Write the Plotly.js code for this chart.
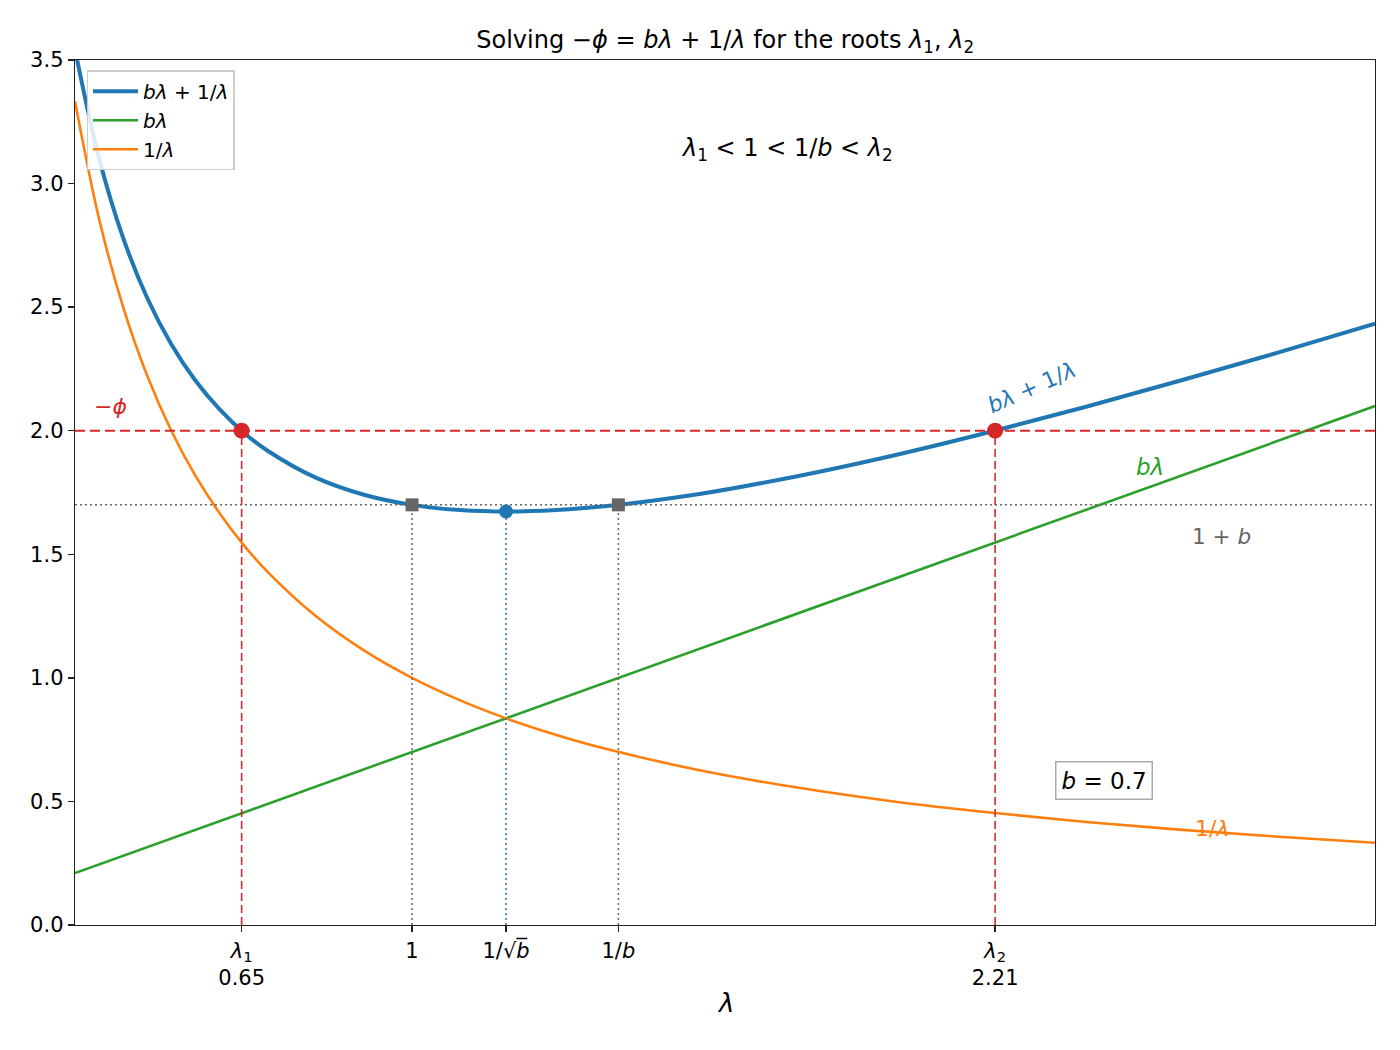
<!DOCTYPE html>
<html>
<head>
<meta charset="utf-8">
<script src="https://cdn.plot.ly/plotly-3.0.1.min.js"></script>
<style>html,body{margin:0;padding:0;background:#fff;}#chart{width:1400px;height:1050px;}</style>
</head>
<body>
<div id="chart"></div>
<script>
// ---- data ----
const lam = [0.30,0.35,0.40,0.45,0.50,0.55,0.60,0.65,0.70,0.80,0.90,1.00,1.10,1.20,1.30,1.40,1.60,1.80,2.00,2.20,2.40,2.60,2.80,3.00];
const sumCurve = [3.543,3.102,2.780,2.537,2.350,2.203,2.087,1.993,1.919,1.810,1.741,1.700,1.679,1.673,1.679,1.694,1.745,1.816,1.900,1.995,2.097,2.205,2.317,2.433];
const linCurve = [0.210,0.245,0.280,0.315,0.350,0.385,0.420,0.455,0.490,0.560,0.630,0.700,0.770,0.840,0.910,0.980,1.120,1.260,1.400,1.540,1.680,1.820,1.960,2.100];
const invCurve = [3.333,2.857,2.500,2.222,2.000,1.818,1.667,1.538,1.429,1.250,1.111,1.000,0.909,0.833,0.769,0.714,0.625,0.556,0.500,0.455,0.417,0.385,0.357,0.333];

const negPhi = 2.0;
const onePlusB = 1.7;
const rootsX = [0.6461, 2.2110];
const squareX = [1.0, 1.4286];
const minX = [1.1952];
const minY = [1.6733];
const tickVals = [0.6461, 1.0, 1.1952, 1.4286, 2.2110];
const tickText = ['<i>λ</i><sub>1</sub><br>0.65', '1', '1/√<i>b\u0305</i>', '1/<i>b</i>', '<i>λ</i><sub>2</sub><br>2.21'];
const yTickVals = [0, 0.5, 1, 1.5, 2, 2.5, 3, 3.5];
const yTickText = ['0.0','0.5','1.0','1.5','2.0','2.5','3.0','3.5'];
const xRange = [0.3, 3.0];
const yRange = [0, 3.5];

const C_BLUE = '#1f77b4', C_GREEN = '#2ca02c', C_ORANGE = '#ff7f0e', C_RED = '#d62728', C_GRAY = '#666666';
const FONT = 'DejaVu Sans, sans-serif';

const traces = [];
traces.push({x: lam, y: sumCurve, mode: 'lines', line: {color: C_BLUE, width: 4, shape: 'spline', smoothing: 1}, name: '<i>bλ</i> + 1/<i>λ</i>'});
traces.push({x: lam, y: linCurve, mode: 'lines', line: {color: C_GREEN, width: 2.6}, name: '<i>bλ</i>'});
traces.push({x: lam, y: invCurve, mode: 'lines', line: {color: C_ORANGE, width: 2.6, shape: 'spline', smoothing: 1}, name: '1/<i>λ</i>'});

traces.push({x: xRange, y: [negPhi, negPhi], mode: 'lines', line: {color: C_RED, width: 2, dash: '10px,5px'}, showlegend: false, hoverinfo: 'skip'});
traces.push({x: xRange, y: [onePlusB, onePlusB], mode: 'lines', line: {color: C_GRAY, width: 1.5, dash: '2px,3px'}, showlegend: false, hoverinfo: 'skip'});
rootsX.forEach(function (rx) {
  traces.push({x: [rx, rx], y: [0, negPhi], mode: 'lines', line: {color: C_RED, width: 1.6, dash: '8px,4px'}, showlegend: false, hoverinfo: 'skip'});
});
squareX.forEach(function (sx) {
  traces.push({x: [sx, sx], y: [0, onePlusB], mode: 'lines', line: {color: C_GRAY, width: 1.5, dash: '2px,3px'}, showlegend: false, hoverinfo: 'skip'});
});
traces.push({x: [minX[0], minX[0]], y: [0, minY[0]], mode: 'lines', line: {color: C_BLUE, width: 1.5, dash: '2px,3px'}, showlegend: false, hoverinfo: 'skip'});

traces.push({x: squareX, y: [onePlusB, onePlusB], mode: 'markers', marker: {symbol: 'square', size: 13, color: C_GRAY}, showlegend: false});
traces.push({x: minX, y: minY, mode: 'markers', marker: {symbol: 'circle', size: 14, color: C_BLUE}, showlegend: false});
traces.push({x: rootsX, y: [negPhi, negPhi], mode: 'markers', marker: {symbol: 'circle', size: 16, color: C_RED}, showlegend: false});

const annotations = [
  {x: 1.779, y: 3.136, text: '<i>λ</i><sub>1</sub> &lt; 1 &lt; 1/<i>b</i> &lt; <i>λ</i><sub>2</sub>', showarrow: false, font: {size: 24, color: '#000'}},
  {x: 0.373, y: 2.096, text: '−<i>ϕ</i>', showarrow: false, font: {size: 22, color: C_RED}},
  {x: 2.2875, y: 2.173, text: '<i>bλ</i> + 1/<i>λ</i>', showarrow: false, textangle: -24, font: {size: 22, color: C_BLUE}},
  {x: 2.533, y: 1.853, text: '<i>bλ</i>', showarrow: false, font: {size: 23, color: C_GREEN}},
  {x: 2.682, y: 1.570, text: '1 + <i>b</i>', showarrow: false, font: {size: 21.5, color: C_GRAY}},
  {x: 2.661, y: 0.392, text: '1/<i>λ</i>', showarrow: false, font: {size: 22, color: C_ORANGE}},
  {x: 2.437, y: 0.583, text: '<i>b</i> = 0.7', showarrow: false, font: {size: 23, color: '#000'}, bgcolor: '#fff', bordercolor: '#aaaaaa', borderwidth: 1.5, borderpad: 5},
  {xref: 'paper', yref: 'paper', x: 0.5, y: -0.090, yanchor: 'middle', text: '<i>λ</i>', showarrow: false, font: {size: 26, color: '#000'}}
];

const layout = {
  width: 1400, height: 1050,
  margin: {l: 75, r: 25, t: 60, b: 125},
  paper_bgcolor: '#fff', plot_bgcolor: '#fff',
  font: {family: FONT, size: 21, color: '#000'},
  title: {text: 'Solving −<i>ϕ</i> = <i>bλ</i> + 1/<i>λ</i> for the roots <i>λ</i><sub>1</sub>, <i>λ</i><sub>2</sub>', font: {size: 24, family: FONT}, x: 0.518, xanchor: 'center', y: 0.962, yanchor: 'middle'},
  xaxis: {range: xRange, showgrid: false, zeroline: false, showline: true, linecolor: '#222', linewidth: 1.3, mirror: true,
          ticks: 'outside', ticklen: 6, tickwidth: 1.3, tickcolor: '#222', tickmode: 'array', tickvals: tickVals, ticktext: tickText,
          tickfont: {size: 21}},
  yaxis: {range: yRange, showgrid: false, zeroline: false, showline: true, linecolor: '#222', linewidth: 1.3, mirror: true,
          ticks: 'outside', ticklen: 6, tickwidth: 1.3, tickcolor: '#222', tickmode: 'array', tickvals: yTickVals,
          ticktext: yTickText, tickfont: {size: 21}},
  legend: {x: 0.009, y: 0.988, xanchor: 'left', yanchor: 'top', bgcolor: 'rgba(255,255,255,0.85)', bordercolor: '#cccccc', borderwidth: 1.3,
           font: {size: 20}, itemwidth: 45, tracegroupgap: 0},
  annotations: annotations,
  showlegend: true
};

Plotly.newPlot('chart', traces, layout, {displayModeBar: false, staticPlot: true});
</script>
</body>
</html>
